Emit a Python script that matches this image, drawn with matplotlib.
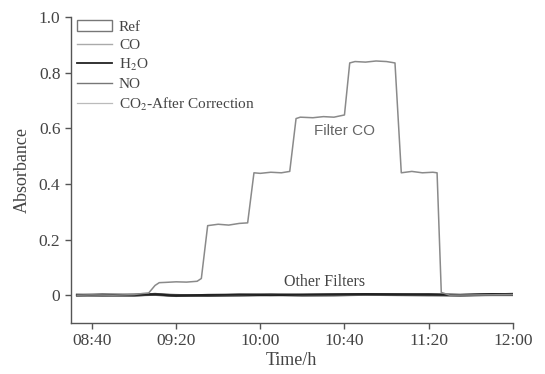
import matplotlib
matplotlib.use("Agg")
import matplotlib.pyplot as plt
from matplotlib.lines import Line2D
from matplotlib.patches import Patch

# ---- data (time in minutes after midnight) ----
tick_labels = ["08:40", "09:20", "10:00", "10:40", "11:20", "12:00"]

co_time = [513, 520, 530, 540, 544, 547, 550, 552, 555, 560, 565, 570, 572, 575, 580,
           585, 590, 594, 597, 600, 605, 610, 614, 617, 619, 625, 630, 635, 640, 642.5,
           645, 650, 655, 660, 664, 667, 672, 677, 682, 684, 686, 690, 720]
co_vals = [0.0, 0.001, 0.0, 0.002, 0.006, 0.008, 0.035, 0.045, 0.046, 0.048, 0.047, 0.05, 0.06,
           0.25, 0.255, 0.252, 0.258, 0.26, 0.44, 0.438, 0.442, 0.44, 0.445, 0.635, 0.64,
           0.638, 0.642, 0.64, 0.648, 0.835, 0.84, 0.838, 0.842, 0.84, 0.835, 0.44, 0.445,
           0.44, 0.442, 0.44, 0.01, 0.0, 0.002]

base_time = [513, 525, 540, 550, 560, 575, 590, 605, 620, 635, 650, 665, 680, 695, 710, 720]
h2o_vals = [0.0, 0.002, 0.001, 0.003, -0.002, 0.001, 0.002, 0.0, 0.002, 0.003, 0.004, 0.003, 0.002, 0.001, 0.004, 0.003]
no_vals = [0.001, -0.001, 0.0, 0.002, 0.0, -0.002, 0.001, 0.002, 0.0, 0.001, 0.002, 0.002, 0.003, 0.0, 0.002, 0.004]
co2_vals = [-0.001, 0.0, 0.002, 0.001, -0.003, 0.0, -0.001, 0.001, 0.001, 0.002, 0.001, 0.003, 0.001, -0.001, 0.003, 0.002]
ref_vals = [0.0, 0.001, -0.001, 0.004, -0.002, -0.001, 0.0, 0.001, 0.0, 0.0, 0.002, 0.001, 0.0, 0.0, 0.001, 0.001]

y_ticks = [0, 0.2, 0.4, 0.6, 0.8, 1.0]
y_tick_labels = ["0", "0.2", "0.4", "0.6", "0.8", "1.0"]


def to_min(s):
    h, m = s.split(":")
    return int(h) * 60 + int(m)


plt.rcParams['font.family'] = ['Liberation Serif', 'DejaVu Serif']
plt.rcParams['mathtext.fontset'] = 'stix'

fig = plt.figure(figsize=(5.45, 3.74), dpi=100)
ax = fig.add_axes([0.130, 0.1364, 0.811, 0.818])

ax.plot(base_time, ref_vals, color='#555555', lw=1.8)
ax.plot(base_time, no_vals, color='#444444', lw=1.8)
ax.plot(base_time, co2_vals, color='#666666', lw=1.5)
ax.plot(base_time, h2o_vals, color='#222222', lw=1.5)
ax.plot(co_time, co_vals, color='#8a8a8a', lw=1.1)

ax.set_xlim(510, 720)
ax.set_ylim(-0.1, 1.0)
ax.set_xticks([to_min(t) for t in tick_labels])
ax.set_xticklabels(tick_labels)
ax.set_yticks(y_ticks)
ax.set_yticklabels(y_tick_labels)

for s in ['top', 'right']:
    ax.spines[s].set_visible(False)
for s in ['left', 'bottom']:
    ax.spines[s].set_color('#555555')
    ax.spines[s].set_linewidth(1.0)
ax.tick_params(direction='out', length=4, width=1, colors='#555555', labelsize=12.5,
               labelcolor='#444444')

ax.set_xlabel("Time/h", fontsize=13, color='#444444', labelpad=2)
ax.set_ylabel("Absorbance", fontsize=13, color='#444444', labelpad=6)

ax.text(640, 0.59, "Filter CO", family=['Liberation Sans', 'DejaVu Sans'], fontsize=11,
        color='#666666', ha='center', va='center')
ax.text(630.7, 0.046, "Other Filters", fontsize=11.5, color='#444444', ha='center', va='center')

handles = [Patch(facecolor='white', edgecolor='#777777', lw=1.0),
           Line2D([], [], color='#aaaaaa', lw=1.0),
           Line2D([], [], color='#222222', lw=1.3),
           Line2D([], [], color='#777777', lw=1.0),
           Line2D([], [], color='#bbbbbb', lw=0.9)]
labels = ["Ref", "CO", "H$_2$O", "NO", "CO$_2$-After Correction"]
leg = ax.legend(handles, labels, loc='upper left', bbox_to_anchor=(0.0, 1.01), frameon=False,
                fontsize=11, handlelength=2.3, handletextpad=0.45, labelspacing=0.3,
                borderaxespad=0.2, borderpad=0.2)
for t in leg.get_texts():
    t.set_color('#444444')

fig.savefig("out.png", dpi=100)
